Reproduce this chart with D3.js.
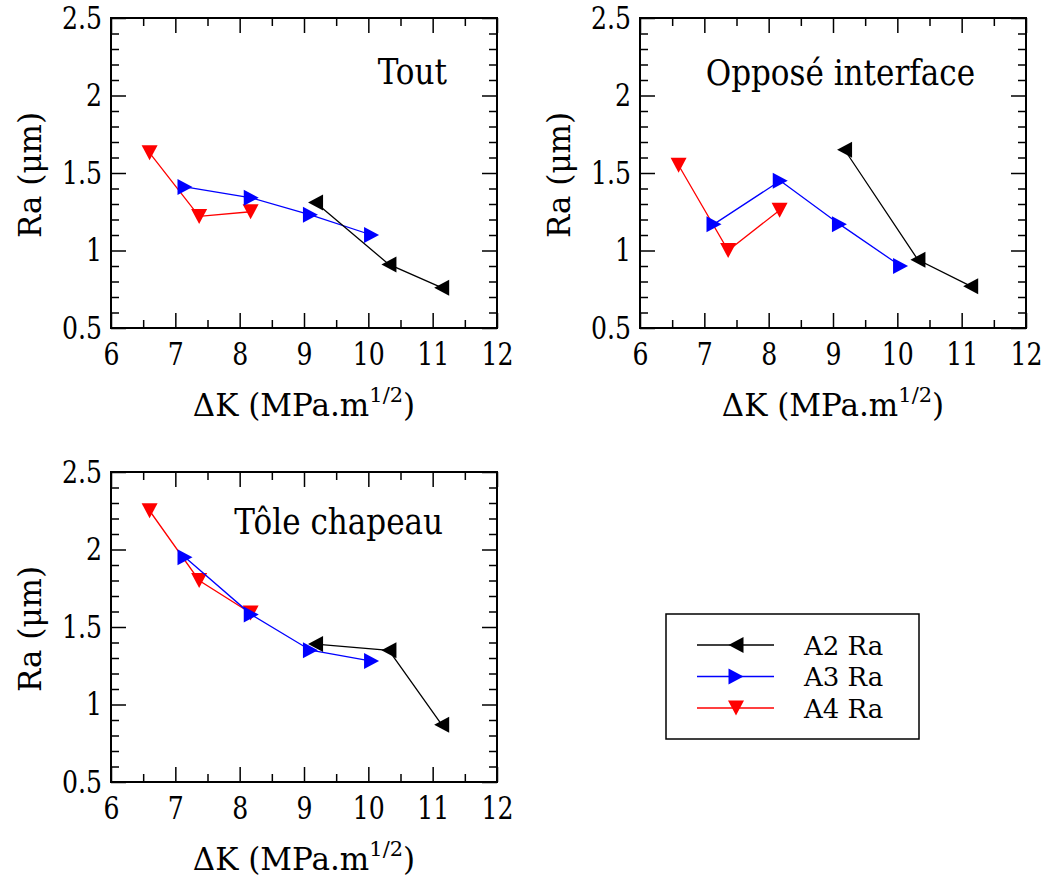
<!DOCTYPE html>
<html>
<head>
<meta charset="utf-8">
<script src="https://cdn.jsdelivr.net/npm/d3@7"></script>
<style>
  html, body { margin: 0; padding: 0; background: #fff; }
  svg { display: block; }
  .lbl { font-family: "DejaVu Serif Condensed", "DejaVu Serif", serif; font-stretch: condensed; fill: #000; }
  .ttl { font-family: "DejaVu Serif", serif; fill: #000; }
  .leg { font-family: "DejaVu Serif", serif; fill: #000; }
</style>
</head>
<body>
<svg id="chart" width="1041" height="875"></svg>
<script>
// ---- data ----
const xTicks = [6, 7, 8, 9, 10, 11, 12];
const yTicks = [0.5, 1, 1.5, 2, 2.5];
const seriesNames = ["A2 Ra", "A3 Ra", "A4 Ra"];
const seriesColors = ["#000000", "#0000ff", "#ff0000"];
const seriesMarkers = ["left", "right", "down"];
const panelTitles = ["Tout", "Opposé interface", "Tôle chapeau"];

const dkA2 = [9.18, 10.32, 11.14];
const dkA3 = [7.15, 8.18, 9.1, 10.05];
const dkA4 = [6.6, 7.37, 8.17];

const toutA2 = [1.31, 0.91, 0.76];
const toutA3 = [1.41, 1.34, 1.23, 1.10];
const toutA4 = [1.63, 1.22, 1.25];

const opposeA2 = [1.65, 0.94, 0.77];
const opposeA3 = [1.17, 1.45, 1.17, 0.90];
const opposeA4 = [1.55, 1.00, 1.26];

const toleA2 = [1.39, 1.35, 0.87];
const toleA3 = [1.95, 1.58, 1.35, 1.28];
const toleA4 = [2.25, 1.80, 1.59];

// ---- build panels ----
const panelData = [
  [toutA2, toutA3, toutA4],
  [opposeA2, opposeA3, opposeA4],
  [toleA2, toleA3, toleA4]
];
const dks = [dkA2, dkA3, dkA4];

const layout = [
  { left: 111, top: 18, title: { x: 447, y: 84 } },
  { left: 640, top: 18, title: { x: 975, y: 85 } },
  { left: 111, top: 472, title: { x: 443, y: 534 } }
];
const W = 386, H = 310;
const stretch = 1.12;

const svg = d3.select("#chart");

function triPath(dir, s, h) {
  const a = h / 2, b = s / 2;
  if (dir === "left") return `M${-a},0L${a},${-b}L${a},${b}Z`;
  if (dir === "right") return `M${a},0L${-a},${-b}L${-a},${b}Z`;
  if (dir === "down") return `M0,${a}L${-b},${-a}L${b},${-a}Z`;
  return `M0,${-a}L${-b},${a}L${b},${a}Z`;
}

panelData.forEach((pd, pi) => {
  const L = layout[pi];
  const g = svg.append("g").attr("transform", `translate(${L.left},${L.top})`);
  const x = d3.scaleLinear().domain([6, 12]).range([0, W]);
  const y = d3.scaleLinear().domain([0.5, 2.5]).range([H, 0]);

  const minorX = d3.range(6, 12.001, 0.5).filter(v => Math.abs(v - Math.round(v)) > 1e-6);
  const minorY = d3.range(0.5, 2.5001, 0.1).map(v => +v.toFixed(2)).filter(v => Math.abs(v * 2 - Math.round(v * 2)) > 1e-6);

  function styleAxis(sel) {
    sel.select(".domain").remove();
    sel.selectAll(".tick line").attr("stroke", "#000").attr("stroke-width", 1.5);
  }
  g.append("g").attr("transform", `translate(0,${H})`)
    .call(d3.axisBottom(x).tickValues(xTicks).tickSize(-15).tickPadding(15).tickFormat(d3.format("d")))
    .call(styleAxis)
    .selectAll("text").attr("class", "lbl").attr("font-size", 28).attr("fill", "#000")
    .attr("y", 15 / stretch).attr("transform", `scale(1,${stretch})`);
  g.append("g")
    .call(d3.axisLeft(y).tickValues(yTicks).tickSize(-15).tickPadding(9).tickFormat(d => String(d)))
    .call(styleAxis)
    .selectAll("text").attr("class", "lbl").attr("font-size", 28).attr("fill", "#000")
    .attr("transform", `scale(1,${stretch})`);
  g.append("g")
    .call(d3.axisTop(x).tickValues(xTicks).tickSize(-15).tickFormat(""))
    .call(styleAxis);
  g.append("g").attr("transform", `translate(${W},0)`)
    .call(d3.axisRight(y).tickValues(yTicks).tickSize(-15).tickFormat(""))
    .call(styleAxis);
  g.append("g").attr("transform", `translate(0,${H})`)
    .call(d3.axisBottom(x).tickValues(minorX).tickSize(-8).tickFormat("")).call(styleAxis);
  g.append("g")
    .call(d3.axisTop(x).tickValues(minorX).tickSize(-8).tickFormat("")).call(styleAxis);
  g.append("g")
    .call(d3.axisLeft(y).tickValues(minorY).tickSize(-8).tickFormat("")).call(styleAxis);
  g.append("g").attr("transform", `translate(${W},0)`)
    .call(d3.axisRight(y).tickValues(minorY).tickSize(-8).tickFormat("")).call(styleAxis);

  g.append("rect").attr("x", 0).attr("y", 0).attr("width", W).attr("height", H)
    .attr("fill", "none").attr("stroke", "#000").attr("stroke-width", 2);

  // axis titles
  const xt = g.append("text").attr("class", "ttl").attr("font-size", 31)
    .attr("x", W / 2).attr("y", H + 88).attr("text-anchor", "middle");
  xt.append("tspan").text("ΔK (MPa.m");
  xt.append("tspan").attr("font-size", 21).attr("dy", -14).text("1/2");
  xt.append("tspan").attr("dy", 14).text(")");

  g.append("text").attr("class", "ttl").attr("font-size", 31)
    .attr("transform", `translate(-70,${H / 2 + 2}) rotate(-90)`)
    .attr("text-anchor", "middle").text("Ra (μm)");

  // panel title
  svg.append("text").attr("class", "lbl").attr("font-size", 34.5)
    .attr("x", L.title.x).attr("y", L.title.y).attr("text-anchor", "end")
    .text(panelTitles[pi]);

  // series: draw A4, A3, A2 (A2 on top)
  const line = d3.line().x(d => x(d[0])).y(d => y(d[1]));
  [2, 1, 0].forEach(si => {
    const pts = dks[si].map((v, i) => [v, pd[si][i]]);
    g.append("path").datum(pts).attr("d", line)
      .attr("fill", "none").attr("stroke", seriesColors[si]).attr("stroke-width", 1.3);
    g.selectAll(null).data(pts).enter().append("path")
      .attr("transform", d => `translate(${x(d[0])},${y(d[1])})`)
      .attr("d", triPath(seriesMarkers[si], 16, 15))
      .attr("fill", seriesColors[si]);
  });
});

// ---- legend ----
const lg = svg.append("g");
lg.append("rect").attr("x", 666).attr("y", 614).attr("width", 253).attr("height", 125)
  .attr("fill", "#fff").attr("stroke", "#000").attr("stroke-width", 1.5);
const rowY = d3.scalePoint().domain(seriesNames).range([645, 708]);
seriesNames.forEach((nm, i) => {
  const yy = rowY(nm);
  lg.append("line").attr("x1", 697).attr("x2", 774).attr("y1", yy).attr("y2", yy)
    .attr("stroke", seriesColors[i]).attr("stroke-width", 1.3);
  lg.append("path").attr("transform", `translate(736,${yy})`)
    .attr("d", triPath(seriesMarkers[i], 16, 15)).attr("fill", seriesColors[i]);
  lg.append("text").attr("class", "leg").attr("font-size", 26)
    .attr("x", 804).attr("y", yy + 9.5).text(nm);
});
</script>
</body>
</html>
